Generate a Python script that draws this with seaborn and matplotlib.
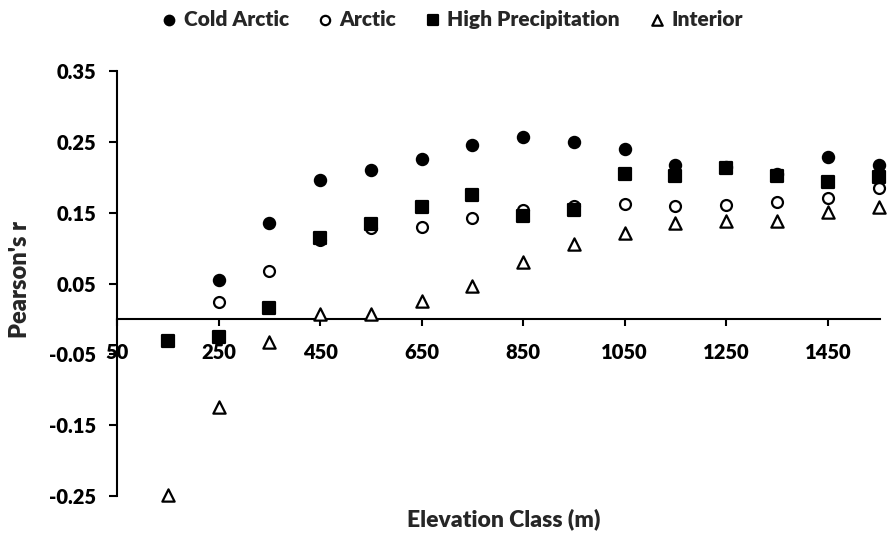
import numpy as np
import pandas as pd
import matplotlib
matplotlib.use("Agg")
import matplotlib.pyplot as plt
import seaborn as sns

elevation = [150, 250, 350, 450, 550, 650, 750, 850, 950, 1050, 1150, 1250, 1350, 1450, 1550]
cold_arctic = [np.nan, 0.055, 0.136, 0.196, 0.210, 0.226, 0.246, 0.257, 0.250, 0.240, 0.217, 0.215, 0.205, 0.228, 0.217]
arctic = [np.nan, 0.024, 0.067, 0.112, 0.129, 0.130, 0.142, 0.154, 0.159, 0.162, 0.160, 0.161, 0.165, 0.171, 0.185]
high_precip = [-0.031, -0.025, 0.015, 0.114, 0.134, 0.158, 0.175, 0.146, 0.154, 0.205, 0.202, 0.213, 0.202, 0.193, 0.200]
interior = [-0.249, -0.125, -0.033, 0.007, 0.007, 0.026, 0.047, 0.081, 0.106, 0.122, 0.135, 0.138, 0.138, 0.151, 0.158]
series_names = ["Cold Arctic", "Arctic", "High Precipitation", "Interior"]
x_ticks = [50, 250, 450, 650, 850, 1050, 1250, 1450]
y_ticks = [-0.25, -0.15, -0.05, 0.05, 0.15, 0.25, 0.35]

sns.set_style("white")
plt.rcParams["font.family"] = ["Lato", "DejaVu Sans"]
W = "heavy"

fig = plt.figure(figsize=(8.89, 5.33), dpi=100)
ax = fig.add_axes([0.1316, 0.0694, 0.8584, 0.7974])

styles = [
    (cold_arctic, "o", "black", 65),
    (arctic, "o", "white", 62),
    (high_precip, "s", "black", 72),
    (interior, "^", "white", 78),
]
for name, (vals, mk, fc, s) in zip(series_names, styles):
    df = pd.DataFrame({"x": elevation, "y": vals}).dropna()
    sns.scatterplot(data=df, x="x", y="y", marker=mk, color="black",
                    facecolor=fc, edgecolor="black", linewidth=1.6, s=s,
                    label=name, ax=ax, zorder=3, clip_on=False)

ax.set_xlim(50, 1553)
ax.set_ylim(-0.25, 0.35)
ax.set_xticks(x_ticks)
ax.set_xticklabels([str(v) for v in x_ticks])
ax.set_yticks(y_ticks)
ax.set_yticklabels([f"{v:.2f}" for v in y_ticks])

for sp in ["top", "right"]:
    ax.spines[sp].set_visible(False)
ax.spines["bottom"].set_position(("data", 0))
for sp in ["left", "bottom"]:
    ax.spines[sp].set_color("black")
    ax.spines[sp].set_linewidth(1.5)

ax.tick_params(axis="x", direction="out", length=5, width=1.5, pad=12,
               labelsize=14.5, colors="black", bottom=True)
ax.tick_params(axis="y", direction="out", length=6, width=1.5, pad=9,
               labelsize=14.5, colors="black", left=True)
for lab in ax.get_xticklabels() + ax.get_yticklabels():
    lab.set_fontweight(W)

ax.set_xlabel("")
ax.set_ylabel("")
fig.text(0.0225, 0.4747, "Pearson's r", rotation=90, ha="center", va="center",
         fontsize=17, fontweight=W)
fig.text(0.567, 0.026, "Elevation Class (m)", ha="center", va="center",
         fontsize=16.5, fontweight=W)

leg = ax.legend(loc="center left", bbox_to_anchor=(0.183, 0.964),
                bbox_transform=fig.transFigure, ncol=4, frameon=False,
                prop={"weight": W, "size": 15}, handlelength=0.6,
                handletextpad=0.4, columnspacing=1.45, markerscale=0.85,
                borderpad=0, borderaxespad=0)

fig.savefig("out.png", dpi=100)
